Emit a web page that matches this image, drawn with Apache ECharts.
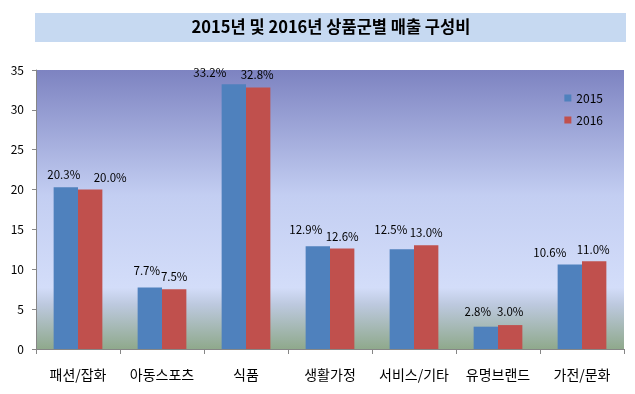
<!DOCTYPE html>
<html><head><meta charset="utf-8">
<script src="https://cdn.jsdelivr.net/npm/echarts@6/dist/echarts.min.js"></script>
<style>html,body{margin:0;padding:0;background:#fff}#c{width:635px;height:394px}</style>
</head><body><div id="c"></div>
<script>
const titleText = '2015년 및 2016년 상품군별 매출 구성비';
const categories = ['패션/잡화','아동스포츠','식품','생활가정','서비스/기타','유명브랜드','가전/문화'];
const seriesNames = ['2015','2016'];
const values2015 = [20.3, 7.7, 33.2, 12.9, 12.5, 2.8, 10.6];
const values2016 = [20.0, 7.5, 32.8, 12.6, 13.0, 3.0, 11.0];
const yTicks = [0,5,10,15,20,25,30,35];

// label placement (layout only): [dx from bar centre, px above bar top]
const labelPos2015 = [[-2,13],[-3,17],[-24,11.5],[-12,17],[-11,20],[-8,15],[-20,11.5]];
const labelPos2016 = [[20,12],[0,13],[-1,12.5],[0,11.5],[0,13],[0,13],[-1,12]];

const font = '"Noto Sans CJK KR", "Noto Sans", sans-serif';
const chart = echarts.init(document.getElementById('c'));
const bg = new echarts.graphic.LinearGradient(0,0,0,1,[
  {offset:0, color:'#7d83c1'},
  {offset:0.45, color:'#c3cef2'},
  {offset:0.78, color:'#d3ddf9'},
  {offset:0.84, color:'#bdc9df'},
  {offset:1, color:'#8fa98c'}
]);
const lbl = {show:true, position:'top', distance:0, verticalAlign:'middle', color:'#000', fontSize:11.5, fontFamily:font,
  formatter: p => p.value.toFixed(1) + '%'};
const mk = (vals, pos) => vals.map((v,i) => ({value:v, label:{offset:[pos[i][0], -pos[i][1]]}}));
chart.setOption({
  animation:false,
  backgroundColor:'#fff',
  graphic:[
    {type:'rect', left:35, top:13, shape:{width:591, height:29}, style:{fill:'#c6d9f1'}, z:0},
    {type:'text', x:331, y:27, style:{text:titleText, font:'bold 16.5px '+font, fill:'#000', align:'center', verticalAlign:'middle'}, z:1}
  ],
  grid:{left:36, top:70, right:11, bottom:45, show:true, backgroundColor:bg, borderWidth:0},
  legend:{orient:'vertical', right:27, top:87, itemWidth:7, itemHeight:7, itemGap:10, icon:'rect',
    textStyle:{fontSize:12, fontFamily:font, color:'#000'}, data:seriesNames},
  xAxis:{type:'category', data:categories,
    axisLine:{lineStyle:{color:'#868686'}},
    axisTick:{show:true, length:5, lineStyle:{color:'#868686'}},
    axisLabel:{color:'#000', fontSize:14, fontFamily:font, margin:19, interval:0}},
  yAxis:{type:'value', min:0, max:35, interval:5,
    axisLine:{show:true, lineStyle:{color:'#868686'}},
    axisTick:{show:true, length:4, lineStyle:{color:'#868686'}},
    splitLine:{show:false},
    axisLabel:{color:'#000', fontSize:12, fontFamily:font, margin:12,
      formatter: v => yTicks.includes(v) ? String(v) : ''}},
  series:[
    {name:seriesNames[0], type:'bar', data:mk(values2015, labelPos2015), barGap:'0%', barCategoryGap:'42%',
      itemStyle:{color:'#4f81bd'}, label:lbl},
    {name:seriesNames[1], type:'bar', data:mk(values2016, labelPos2016), barGap:'0%', barCategoryGap:'42%',
      itemStyle:{color:'#c0504d'}, label:lbl}
  ]
});
</script></body></html>
